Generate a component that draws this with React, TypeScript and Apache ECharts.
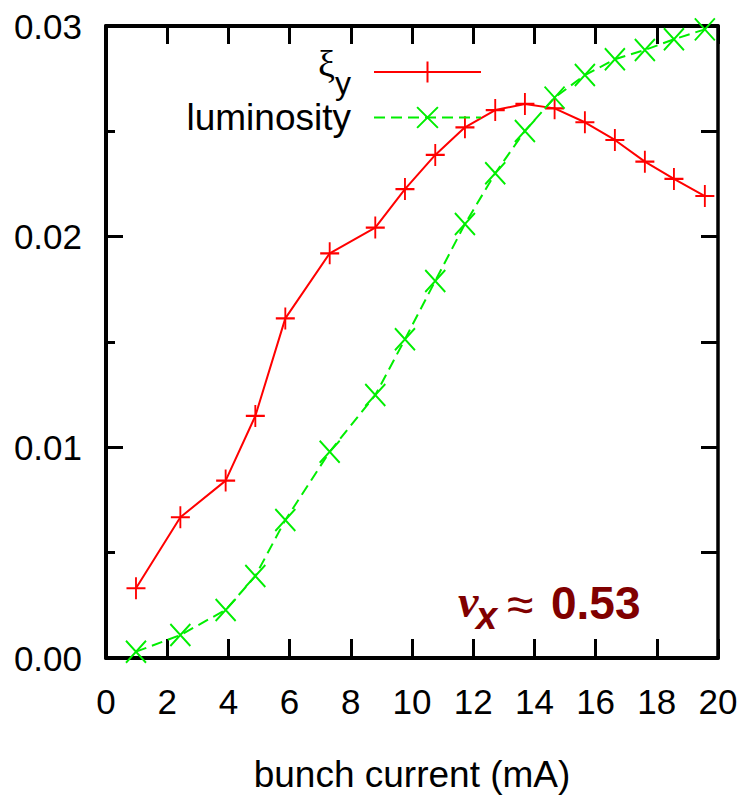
import React, { useEffect, useRef } from "react";
import * as echarts from "echarts";

// bunch current (mA) of each measurement
const bunchCurrent = [0.98, 2.43, 3.91, 4.88, 5.86, 7.31, 8.8, 9.77, 10.76, 11.73, 12.72, 13.69, 14.66, 15.65, 16.63, 17.61, 18.56, 19.57];
// beam-beam parameter xi_y
const xiY = [0.00331, 0.00668, 0.00842, 0.01149, 0.01612, 0.01921, 0.02043, 0.02226, 0.02388, 0.02519, 0.02601, 0.0263, 0.02609, 0.02543, 0.02459, 0.02356, 0.02274, 0.02193];
// luminosity (scaled)
const luminosity = [0.0003, 0.00109, 0.00228, 0.00389, 0.00655, 0.00979, 0.01248, 0.01513, 0.0179, 0.0206, 0.02301, 0.02502, 0.0266, 0.02767, 0.02842, 0.02886, 0.02937, 0.02984];

const seriesNames = ["ξy", "luminosity"];
const xTitle = "bunch current (mA)";
const annotationParts = ["ν", "x", "≈", "0.53"];

const SANS = "'Liberation Sans', Arial, Helvetica, sans-serif";
const SERIF = "'Liberation Serif', 'Times New Roman', serif";

const PLUS = "path://M10,0L10,22M0,11L20,11";
const CROSS = "path://M0,0L20,22M20,0L0,22";

export default function App() {
  const ref = useRef<HTMLDivElement>(null);
  useEffect(() => {
    if (!ref.current) return;
    const chart = echarts.init(ref.current, undefined, { renderer: "svg" });
    const red = "#ff0000";
    const green = "#00ee00";
    const dark = "#800000";
    const option: any = {
      animation: false,
      backgroundColor: "#ffffff",
      textStyle: { fontFamily: SANS },
      grid: { left: 106, top: 26, right: 26, bottom: 141, containLabel: false },
      xAxis: [
        {
          type: "value",
          position: "bottom",
          min: 0,
          max: 20,
          interval: 2,
          name: xTitle,
          nameLocation: "middle",
          nameGap: 98,
          nameTextStyle: { fontSize: 37, color: "#000", fontFamily: SANS },
          axisLine: { show: true, onZero: false, lineStyle: { color: "#000", width: 4 } },
          axisTick: { show: true, inside: true, length: 19, lineStyle: { color: "#000", width: 3 } },
          axisLabel: { fontSize: 35, color: "#000", margin: 26, fontFamily: SANS },
          splitLine: { show: false },
        },
        {
          type: "value",
          position: "top",
          min: 0,
          max: 20,
          interval: 2,
          axisLine: { show: true, onZero: false, lineStyle: { color: "#000", width: 4 } },
          axisTick: { show: true, inside: true, length: 18, lineStyle: { color: "#000", width: 3 } },
          axisLabel: { show: false },
          splitLine: { show: false },
        },
      ],
      yAxis: [
        {
          type: "value",
          position: "left",
          min: 0,
          max: 0.03,
          interval: 0.01,
          axisLine: { show: true, onZero: false, lineStyle: { color: "#000", width: 4 } },
          axisTick: { show: true, inside: true, length: 17, lineStyle: { color: "#000", width: 3 } },
          minorTick: { show: true, splitNumber: 2, length: 9, lineStyle: { color: "#000", width: 3 } },
          axisLabel: {
            fontSize: 35,
            color: "#000",
            margin: 24,
            fontFamily: SANS,
            formatter: (v: number) => v.toFixed(2),
          },
          splitLine: { show: false },
          minorSplitLine: { show: false },
        },
        {
          type: "value",
          position: "right",
          min: 0,
          max: 0.03,
          interval: 0.005,
          axisLine: { show: true, onZero: false, lineStyle: { color: "#000", width: 3.5 } },
          axisTick: { show: true, inside: true, length: 17, lineStyle: { color: "#000", width: 3 } },
          axisLabel: { show: false },
          splitLine: { show: false },
        },
      ],
      legend: [
        {
          data: [seriesNames[0]],
          orient: "vertical",
          align: "right",
          right: 262,
          top: 45,
          padding: 0,
          itemWidth: 107,
          itemHeight: 26,
          itemStyle: { borderWidth: 2 },
          formatter: () => "{g|ξ}{s|y}",
          textStyle: {
            color: "#000",
            padding: [0, 18, 0, 0],
            rich: {
              g: { fontFamily: SERIF, fontSize: 38, color: "#000", verticalAlign: "top", lineHeight: 40 },
              s: { fontFamily: SANS, fontSize: 32, color: "#000", verticalAlign: "bottom", lineHeight: 54 },
            },
          },
        },
        {
          data: [seriesNames[1]],
          orient: "vertical",
          align: "right",
          right: 262,
          top: 99,
          padding: 0,
          itemWidth: 107,
          itemHeight: 26,
          itemStyle: { borderWidth: 2 },
          textStyle: { color: "#000", fontSize: 37, fontFamily: SANS, padding: [0, 18, 0, 0] },
        },
      ],
      series: [
        {
          name: seriesNames[0],
          type: "line",
          xAxisIndex: 0,
          yAxisIndex: 0,
          data: bunchCurrent.map((x, i) => [x, xiY[i]]),
          color: red,
          symbol: PLUS,
          symbolSize: [19, 22],
          showSymbol: true,
          lineStyle: { color: red, width: 2 },
          itemStyle: { color: red, borderColor: red, borderWidth: 2 },
          clip: false,
          z: 3,
        },
        {
          name: seriesNames[1],
          type: "line",
          xAxisIndex: 0,
          yAxisIndex: 0,
          data: bunchCurrent.map((x, i) => [x, luminosity[i]]),
          color: green,
          symbol: CROSS,
          symbolSize: [20, 22],
          showSymbol: true,
          lineStyle: { color: green, width: 2, type: [11, 6] },
          itemStyle: { color: green, borderColor: green, borderWidth: 2 },
          clip: false,
          z: 3,
        },
      ],
      graphic: [
        {
          type: "text",
          x: 458,
          y: 601,
          style: {
            text: annotationParts[0],
            fontFamily: SERIF,
            fontStyle: "italic",
            fontWeight: "bold",
            fontSize: 46,
            fill: dark,
            align: "left",
            verticalAlign: "middle",
          },
        },
        {
          type: "text",
          x: 476,
          y: 616,
          style: {
            text: annotationParts[1],
            fontFamily: SANS,
            fontStyle: "italic",
            fontWeight: "bold",
            fontSize: 38,
            fill: dark,
            align: "left",
            verticalAlign: "middle",
          },
        },
        {
          type: "text",
          x: 507,
          y: 604,
          style: {
            text: annotationParts[2],
            fontFamily: SANS,
            fontSize: 48,
            fill: dark,
            align: "left",
            verticalAlign: "middle",
          },
        },
        {
          type: "text",
          x: 551,
          y: 603,
          style: {
            text: annotationParts[3],
            fontFamily: SANS,
            fontWeight: "bold",
            fontSize: 46,
            fill: dark,
            align: "left",
            verticalAlign: "middle",
          },
        },
      ],
    };
    chart.setOption(option);
    return () => chart.dispose();
  }, []);
  return (
    <div
      ref={ref}
      style={{ position: "fixed", left: 0, top: 0, width: 744, height: 799, background: "#fff" }}
    />
  );
}
